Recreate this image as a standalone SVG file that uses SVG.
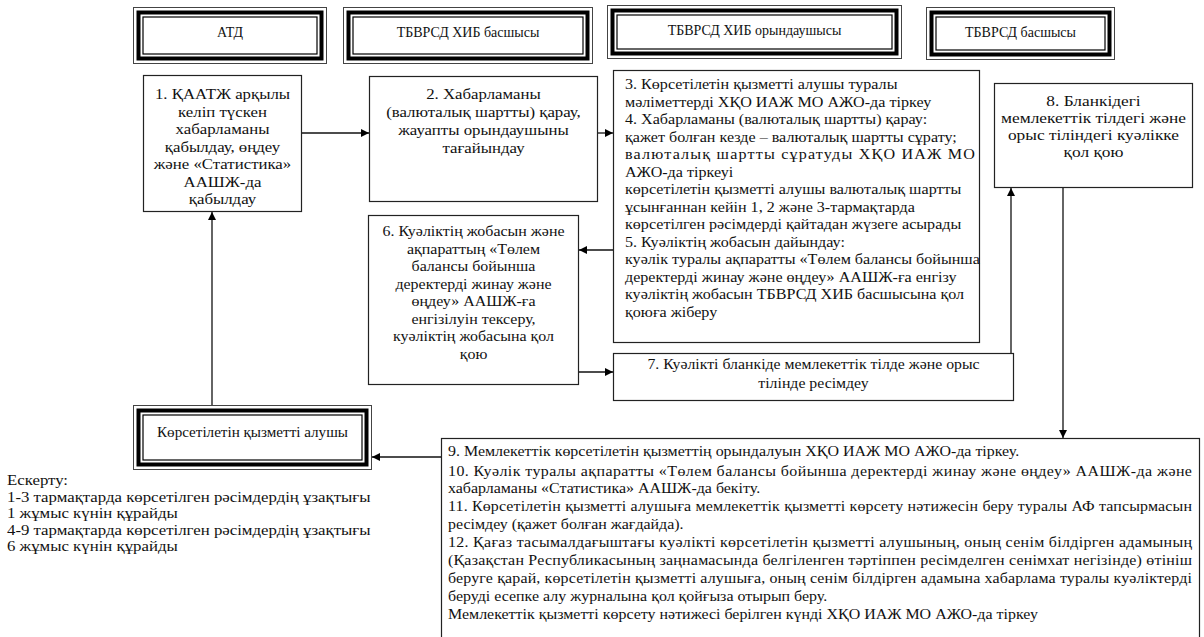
<svg xmlns="http://www.w3.org/2000/svg" width="1204" height="637" viewBox="0 0 1204 637">
  <style>
    text { font-family: "Liberation Serif", "DejaVu Serif", serif; font-size: 14px; fill: #111; }
    .c { text-anchor: middle; }
    .box { fill: #fff; stroke: #222; stroke-width: 1.2; }
    .fr-out { fill: #fff; stroke: #444; stroke-width: 1; }
    .fr-mid { fill: none; stroke: #000; stroke-width: 4; }
    .fr-in { fill: none; stroke: #000; stroke-width: 1.2; }
    .ln { fill: none; stroke: #111; stroke-width: 1.3; }
  </style>
  <defs>
    <marker id="ah" viewBox="0 0 10 10" refX="10" refY="5" markerWidth="9" markerHeight="8" markerUnits="userSpaceOnUse" orient="auto">
      <path d="M0,0 L10,5 L0,10 z" fill="#000"/>
    </marker>
  </defs>

  <rect width="1204" height="637" fill="#fff"/>

  <!-- header frames -->
  <g id="hdr-atd">
    <rect class="fr-out" x="133.5" y="7.5" width="193" height="56"/>
    <rect class="fr-mid" x="138.5" y="12.5" width="183" height="46"/>
    <rect class="fr-in" x="143" y="17" width="174" height="37"/>
    <text class="c" x="230" y="37">АТД</text>
  </g>
  <g id="hdr-head">
    <rect class="fr-out" x="343.5" y="7.5" width="249" height="56"/>
    <rect class="fr-mid" x="348.5" y="12.5" width="239" height="46"/>
    <rect class="fr-in" x="353" y="17" width="230" height="37"/>
    <text class="c" x="468" y="37">ТБВРСД ХИБ басшысы</text>
  </g>
  <g id="hdr-exec">
    <rect class="fr-out" x="607.5" y="5.5" width="294" height="53"/>
    <rect class="fr-mid" x="612.5" y="10.5" width="284" height="43"/>
    <rect class="fr-in" x="617" y="15" width="275" height="34"/>
    <text class="c" x="754.5" y="35">ТБВРСД ХИБ орындаушысы</text>
  </g>
  <g id="hdr-chief">
    <rect class="fr-out" x="926.5" y="7.5" width="188" height="52"/>
    <rect class="fr-mid" x="931.5" y="12.5" width="178" height="42"/>
    <rect class="fr-in" x="936" y="17" width="169" height="33"/>
    <text class="c" x="1020.5" y="37">ТБВРСД басшысы</text>
  </g>
  <g id="hdr-client">
    <rect class="fr-out" x="133.5" y="405.5" width="238" height="64"/>
    <rect class="fr-mid" x="138.5" y="410.5" width="228" height="54"/>
    <rect class="fr-in" x="143" y="415" width="219" height="45"/>
    <text class="c" x="252.5" y="437" transform="matrix(1.08 0 0 1 -20.2 0)">Көрсетілетін қызметті алушы</text>
  </g>

  <!-- step 1 -->
  <g id="step1">
    <rect class="box" x="143.5" y="75.5" width="158" height="136"/>
    <g transform="matrix(1.2 0 0 1 -44.5 0)">
      <text class="c" x="222.5" y="99.5">1.  ҚААТЖ арқылы</text>
      <text class="c" x="222.5" y="117">келіп түскен</text>
      <text class="c" x="222.5" y="134.5">хабарламаны</text>
      <text class="c" x="222.5" y="152">қабылдау, өңдеу</text>
      <text class="c" x="222.5" y="169.5">және «Статистика»</text>
      <text class="c" x="222.5" y="187">ААШЖ-да</text>
      <text class="c" x="222.5" y="204.5">қабылдау</text>
    </g>
  </g>

  <!-- step 2 -->
  <g id="step2">
    <rect class="box" x="369.5" y="76.5" width="228" height="125"/>
    <g transform="matrix(1.2 0 0 1 -96.7 0)">
      <text class="c" x="483.5" y="99.5">2. Хабарламаны</text>
      <text class="c" x="483.5" y="117.5">(валюталық шартты) қарау,</text>
      <text class="c" x="483.5" y="135.5">жауапты орындаушыны</text>
      <text class="c" x="483.5" y="153.5">тағайындау</text>
    </g>
  </g>

  <!-- steps 3-5 -->
  <g id="step3">
    <rect class="box" x="613.5" y="70.5" width="366" height="272"/>
    <g transform="matrix(1.15 0 0 1 -93.75 0)">
      <text x="625" y="89.5">3. Көрсетілетін қызметті алушы туралы</text>
      <text x="625" y="107">мәліметтерді ХҚО ИАЖ МО АЖО-да тіркеу</text>
      <text x="625" y="124.5">4. Хабарламаны (валюталық шартты) қарау:</text>
      <text x="625" y="142">қажет болған кезде – валюталық шартты сұрату;</text>
      <text x="625" y="159.5" textLength="304.3" lengthAdjust="spacing">валюталық шартты сұратуды ХҚО ИАЖ МО</text>
      <text x="625" y="177">АЖО-да тіркеуі</text>
      <text x="625" y="194.5">көрсетілетін қызметті алушы валюталық шартты</text>
      <text x="625" y="212">ұсынғаннан кейін 1, 2 және 3-тармақтарда</text>
      <text x="625" y="229.5">көрсетілген рәсімдерді қайтадан жүзеге асырады</text>
      <text x="625" y="247">5. Куәліктің жобасын дайындау:</text>
      <text x="625" y="264.5">куәлік туралы ақпаратты «Төлем балансы бойынша</text>
      <text x="625" y="282">деректерді жинау және өңдеу» ААШЖ-ға енгізу</text>
      <text x="625" y="299.5">куәліктің жобасын ТБВРСД ХИБ басшысына қол</text>
      <text x="625" y="317">қоюға жіберу</text>
    </g>
  </g>

  <!-- step 6 -->
  <g id="step6">
    <rect class="box" x="368.5" y="215.5" width="210" height="169"/>
    <g transform="matrix(1.14 0 0 1 -66.29 0)">
      <text class="c" x="473.5" y="236.5">6. Куәліктің жобасын және</text>
      <text class="c" x="473.5" y="254">ақпараттың «Төлем</text>
      <text class="c" x="473.5" y="271.5">балансы бойынша</text>
      <text class="c" x="473.5" y="289">деректерді жинау және</text>
      <text class="c" x="473.5" y="306.5">өңдеу» ААШЖ-ға</text>
      <text class="c" x="473.5" y="324">енгізілуін тексеру,</text>
      <text class="c" x="473.5" y="341.5">куәліктің жобасына қол</text>
      <text class="c" x="473.5" y="359">қою</text>
    </g>
  </g>

  <!-- step 7 -->
  <g id="step7">
    <rect class="box" x="613.5" y="353.5" width="400" height="47"/>
    <g transform="matrix(1.13 0 0 1 -105.76 0)">
      <text class="c" x="813.5" y="369.5">7. Куәлікті бланкіде мемлекеттік тілде және орыс</text>
      <text class="c" x="813.5" y="388">тілінде ресімдеу</text>
    </g>
  </g>

  <!-- step 8 -->
  <g id="step8">
    <rect class="box" x="994.5" y="83.5" width="198" height="104"/>
    <g transform="matrix(1.24 0 0 1 -262.44 0)">
      <text class="c" x="1093.5" y="106.5">8. Бланкідегі</text>
      <text class="c" x="1093.5" y="123.5">мемлекеттік тілдегі және</text>
      <text class="c" x="1093.5" y="140.5">орыс тіліндегі куәлікке</text>
      <text class="c" x="1093.5" y="157.5">қол қою</text>
    </g>
  </g>

  <!-- steps 9-12 -->
  <g id="step9">
    <rect class="box" x="441.5" y="438.5" width="758" height="210"/>
    <g transform="matrix(1.14 0 0 1 -62.72 0)">
      <text x="448" y="456.5">9. Мемлекеттік көрсетілетін қызметтің орындалуын ХҚО ИАЖ МО АЖО-да тіркеу.</text>
      <text x="448" y="476" textLength="652.6" lengthAdjust="spacing">10. Куәлік туралы ақпаратты «Төлем балансы бойынша деректерді жинау және өңдеу» ААШЖ-да және</text>
      <text x="448" y="493.5">хабарламаны «Статистика» ААШЖ-да бекіту.</text>
      <text x="448" y="511.5" textLength="652.6" lengthAdjust="spacing">11. Көрсетілетін қызметті алушыға мемлекеттік қызметті көрсету нәтижесін беру туралы АФ тапсырмасын</text>
      <text x="448" y="529">ресімдеу (қажет болған жағдайда).</text>
      <text x="448" y="547.5" textLength="652.6" lengthAdjust="spacing">12. Қағаз тасымалдағыштағы куәлікті көрсетілетін қызметті алушының, оның сенім білдірген адамының</text>
      <text x="448" y="565.5" textLength="652.6" lengthAdjust="spacing">(Қазақстан Республикасының заңнамасында белгіленген тәртіппен ресімделген сенімхат негізінде) өтініш</text>
      <text x="448" y="583.5" textLength="652.6" lengthAdjust="spacing">беруге қарай, көрсетілетін қызметті алушыға, оның сенім білдірген адамына хабарлама туралы куәліктерді</text>
      <text x="448" y="601.5">беруді есепке алу журналына қол қойғыза отырып беру.</text>
      <text x="448" y="619.5">Мемлекеттік қызметті көрсету нәтижесі берілген күнді ХҚО ИАЖ МО АЖО-да тіркеу</text>
    </g>
  </g>

  <!-- note -->
  <g id="note" transform="matrix(1.2 0 0 1 -1.4 0)">
    <text x="7" y="485.5">Ескерту:</text>
    <text x="7" y="502">1-3 тармақтарда көрсетілген рәсімдердің ұзақтығы</text>
    <text x="7" y="518.5">1 жұмыс күнін құрайды</text>
    <text x="7" y="535">4-9 тармақтарда көрсетілген рәсімдердің ұзақтығы</text>
    <text x="7" y="551.5">6 жұмыс күнін құрайды</text>
  </g>

  <!-- connectors -->
  <g id="connectors">
    <path class="ln" d="M302,133 H369" marker-end="url(#ah)"/>
    <path class="ln" d="M598,133 H613" marker-end="url(#ah)"/>
    <path class="ln" d="M613,250 H579" marker-end="url(#ah)"/>
    <path class="ln" d="M579,372 H613" marker-end="url(#ah)"/>
    <path class="ln" d="M1011,353 V188" marker-end="url(#ah)"/>
    <path class="ln" d="M1063,188 V438" marker-end="url(#ah)"/>
    <path class="ln" d="M441,457 H372" marker-end="url(#ah)"/>
    <path class="ln" d="M212,405 V212" marker-end="url(#ah)"/>
  </g>
</svg>
